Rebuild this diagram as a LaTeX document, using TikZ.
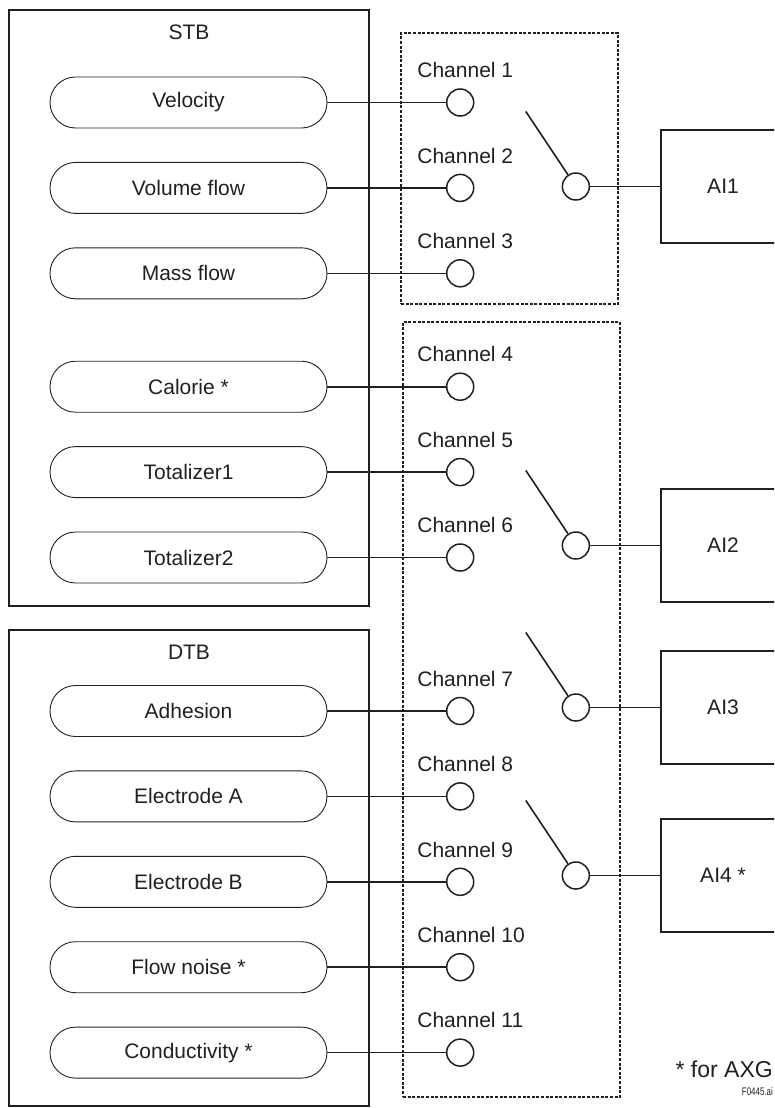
\documentclass[tikz,border=0pt]{standalone}
\usepackage{fontspec}
\setmainfont{Liberation Sans}
\usepackage{tikz}
\usetikzlibrary{positioning}
\definecolor{lineDark}{RGB}{35,31,32}

\begin{document}
\begin{tikzpicture}[x=1pt, y=-1pt, node distance=33.5pt,
font=\fontsize{21}{25}\selectfont, text=lineDark,
tbbox/.style={rectangle, draw=lineDark, line width=1.8pt, inner sep=0pt},
pill/.style={rectangle, rounded corners=25.5pt, draw=lineDark, line width=0.9pt,
minimum width=277pt, minimum height=51pt, inner sep=0pt},
grp/.style={rectangle, draw=lineDark, line width=1.6pt, dash pattern=on 3pt off 1.6pt, inner sep=0pt},
port/.style={circle, draw=lineDark, line width=1.5pt, minimum size=27pt, inner sep=0pt},
chlab/.style={anchor=base west, inner sep=0pt},
aibox/.style={rectangle, draw=lineDark, line width=1.8pt,
minimum width=124pt, minimum height=113pt, inner sep=0pt},
wire/.style={draw=lineDark, line width=1.6pt}]
\useasboundingbox (0,0) rectangle (774,1108);
\clip (0,0) rectangle (774,1108);
% block frames
\node[tbbox, minimum width=360pt, minimum height=596pt] (stb) at (189,308) {};
\node[anchor=base] (stbtitle) at ([yshift=-30pt]stb.north) {STB};
\node[tbbox, minimum width=360pt, minimum height=476pt] (dtb) at (189,868) {};
\node[anchor=base] (dtbtitle) at ([yshift=-30pt]dtb.north) {DTB};
\node[grp, minimum width=217pt, minimum height=271pt] (grp1) at (509.5,168.5) {};
\node[grp, minimum width=217pt, minimum height=775pt] (grp2) at (511.5,709.5) {};
% STB parameters
\node[pill] (vel) at (188.5,102.5) {Velocity};
\node[pill, below=of vel] (volflow) {Volume flow};
\node[pill, below=of volflow] (massflow) {Mass flow};
\node[pill, below=61.5pt of massflow] (calorie) {Calorie *};
\node[pill, below=of calorie] (tot1) {Totalizer1};
\node[pill, below=of tot1] (tot2) {Totalizer2};
% DTB parameters
\node[pill] (adhesion) at (188.5,711) {Adhesion};
\node[pill, below=of adhesion] (elecA) {Electrode A};
\node[pill, below=of elecA] (elecB) {Electrode B};
\node[pill, below=of elecB] (noise) {Flow noise *};
\node[pill, below=of noise] (cond) {Conductivity *};
% channels
\node[port, right=118.5pt of vel] (ch1) {};
\node[port, right=118.5pt of volflow] (ch2) {};
\node[port, right=118.5pt of massflow] (ch3) {};
\node[port, right=118.5pt of calorie] (ch4) {};
\node[port, right=118.5pt of tot1] (ch5) {};
\node[port, right=118.5pt of tot2] (ch6) {};
\node[port, right=118.5pt of adhesion] (ch7) {};
\node[port, right=118.5pt of elecA] (ch8) {};
\node[port, right=118.5pt of elecB] (ch9) {};
\node[port, right=118.5pt of noise] (ch10) {};
\node[port, right=118.5pt of cond] (ch11) {};
\node[chlab] (lab1) at ([xshift=-43pt, yshift=10.5pt]ch1.north) {Channel 1};
\node[chlab] (lab2) at ([xshift=-43pt, yshift=10.5pt]ch2.north) {Channel 2};
\node[chlab] (lab3) at ([xshift=-43pt, yshift=10.5pt]ch3.north) {Channel 3};
\node[chlab] (lab4) at ([xshift=-43pt, yshift=10.5pt]ch4.north) {Channel 4};
\node[chlab] (lab5) at ([xshift=-43pt, yshift=10.5pt]ch5.north) {Channel 5};
\node[chlab] (lab6) at ([xshift=-43pt, yshift=10.5pt]ch6.north) {Channel 6};
\node[chlab] (lab7) at ([xshift=-43pt, yshift=10.5pt]ch7.north) {Channel 7};
\node[chlab] (lab8) at ([xshift=-43pt, yshift=10.5pt]ch8.north) {Channel 8};
\node[chlab] (lab9) at ([xshift=-43pt, yshift=10.5pt]ch9.north) {Channel 9};
\node[chlab] (lab10) at ([xshift=-43pt, yshift=10.5pt]ch10.north) {Channel 10};
\node[chlab] (lab11) at ([xshift=-43pt, yshift=10.5pt]ch11.north) {Channel 11};
% AI blocks and selectors
\node[aibox] (ai1) at (723,186.5) {AI1};
\node[aibox] (ai2) at (723,545.5) {AI2};
\node[aibox] (ai3) at (723,707.5) {AI3};
\node[aibox] (ai4) at (723,875.5) {AI4 *};
\node[port, left=70pt of ai1] (sw1) {};
\node[port, left=70pt of ai2] (sw2) {};
\node[port, left=70pt of ai3] (sw3) {};
\node[port, left=70pt of ai4] (sw4) {};
\coordinate (arm1) at ([xshift=-50pt, yshift=75pt]sw1.center);
\coordinate (arm2) at ([xshift=-50pt, yshift=75pt]sw2.center);
\coordinate (arm3) at ([xshift=-50pt, yshift=75pt]sw3.center);
\coordinate (arm4) at ([xshift=-50pt, yshift=75pt]sw4.center);
% wiring
\draw[wire] (vel)      -- (ch1);
\draw[wire] (volflow)  -- (ch2);
\draw[wire] (massflow) -- (ch3);
\draw[wire] (calorie)  -- (ch4);
\draw[wire] (tot1)     -- (ch5);
\draw[wire] (tot2)     -- (ch6);
\draw[wire] (adhesion) -- (ch7);
\draw[wire] (elecA)    -- (ch8);
\draw[wire] (elecB)    -- (ch9);
\draw[wire] (noise)    -- (ch10);
\draw[wire] (cond)     -- (ch11);
\draw[wire] (arm1) -- (sw1);
\draw[wire] (arm2) -- (sw2);
\draw[wire] (arm3) -- (sw3);
\draw[wire] (arm4) -- (sw4);
\draw[wire] (sw1) -- (ai1);
\draw[wire] (sw2) -- (ai2);
\draw[wire] (sw3) -- (ai3);
\draw[wire] (sw4) -- (ai4);
% notes
\node[anchor=base east, inner sep=0pt, font=\fontsize{23}{27}\selectfont] (note)
    at (773,1077) {* for AXG};
\node[anchor=base east, inner sep=0pt, font=\fontsize{11}{13}\selectfont] (figid)
    at (773,1095) {\scalebox{0.72}[1]{F0445.ai}};
\end{tikzpicture}
\end{document}
